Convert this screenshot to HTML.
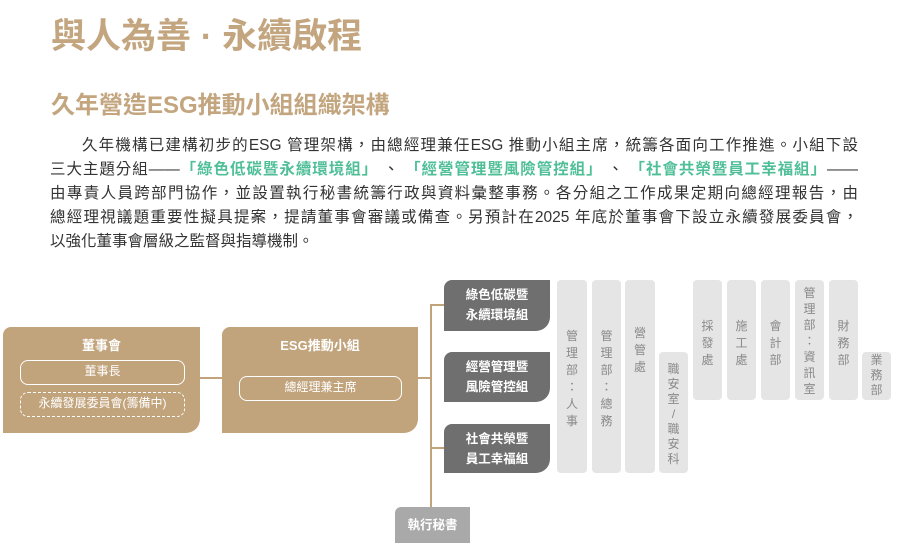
<!DOCTYPE html>
<html><head><meta charset="utf-8">
<style>
body{margin:0;width:900px;height:555px;background:#fff;position:relative;overflow:hidden;font-family:"Liberation Sans","Noto Sans CJK TC",sans-serif;}
.a{position:absolute;}
.t1{left:51px;top:8px;font-size:35px;font-weight:bold;color:#c3a67f;letter-spacing:0px;white-space:nowrap;}
.t2{left:51px;top:85px;font-size:24px;font-weight:bold;color:#c3a67f;white-space:nowrap;}
.p{left:50px;width:808px;font-size:15.5px;color:#333;text-align:justify;text-align-last:justify;white-space:nowrap;line-height:24px;}
.g{color:#4fbf98;font-weight:bold;}
.gold{background:#c1a37c;color:#fff;font-weight:bold;}
.pill{position:absolute;border:1.5px solid #fff;border-radius:8px;color:#fff;font-size:12px;font-weight:normal;text-align:center;line-height:21px;box-sizing:border-box;}
.dk{background:#6f6f6f;color:#fff;font-size:12.5px;font-weight:bold;text-align:center;line-height:20px;border-radius:8px 0 14px 0;box-sizing:border-box;padding-top:5px;}
.col{background:#e5e5e5;border-radius:4px;color:#8a8a8a;font-size:12px;text-align:center;line-height:17px;box-sizing:border-box;}
.ln{position:absolute;background:#c1a37c;}
</style></head><body>
<div class="a t1">與人為善 · 永續啟程</div>
<div class="a t2">久年營造ESG推動小組組織架構</div>
<div class="a p" style="top:134px;"><span style="padding-left:32px"></span>久年機構已建構初步的ESG 管理架構，由總經理兼任ESG 推動小組主席，統籌各面向工作推進。小組下設</div>
<div class="a p" style="top:158px;">三大主題分組——<span class="g">「綠色低碳暨永續環境組」</span> 、 <span class="g">「經營管理暨風險管控組」</span> 、 <span class="g">「社會共榮暨員工幸福組」</span>——</div>
<div class="a p" style="top:182px;">由專責人員跨部門協作，並設置執行秘書統籌行政與資料彙整事務。各分組之工作成果定期向總經理報告，由</div>
<div class="a p" style="top:206px;">總經理視議題重要性擬具提案，提請董事會審議或備查。另預計在2025 年底於董事會下設立永續發展委員會，</div>
<div class="a" style="left:50px;top:230px;font-size:15.5px;color:#333;line-height:24px;">以強化董事會層級之監督與指導機制。</div>

<!-- connectors -->
<div class="ln" style="left:200px;top:377px;width:22px;height:2px;"></div>
<div class="ln" style="left:418px;top:377px;width:14px;height:2px;"></div>
<div class="ln" style="left:430px;top:304px;width:2px;height:205px;"></div>
<div class="ln" style="left:430px;top:304px;width:14px;height:2px;"></div>
<div class="ln" style="left:430px;top:447px;width:14px;height:2px;"></div>

<!-- board -->
<div class="a gold" style="left:3px;top:327px;width:197px;height:106px;border-radius:8px 0 14px 0;">
 <div class="a" style="left:0;width:197px;top:8px;text-align:center;font-size:13px;">董事會</div>
 <div class="pill" style="left:17px;top:33px;width:165px;height:25px;">董事長</div>
 <div class="pill" style="left:17px;top:65px;width:165px;height:25px;border-style:dashed;">永續發展委員會(籌備中)</div>
</div>
<!-- ESG -->
<div class="a gold" style="left:222px;top:327px;width:196px;height:106px;border-radius:8px 0 14px 0;">
 <div class="a" style="left:0;width:196px;top:8px;text-align:center;font-size:13px;">ESG推動小組</div>
 <div class="pill" style="left:17px;top:49px;width:163px;height:25px;">總經理兼主席</div>
</div>

<!-- groups -->
<div class="a dk" style="left:444px;top:280px;width:106px;height:51px;">綠色低碳暨<br>永續環境組</div>
<div class="a dk" style="left:444px;top:352px;width:106px;height:50px;">經營管理暨<br>風險管控組</div>
<div class="a dk" style="left:444px;top:424px;width:106px;height:49px;">社會共榮暨<br>員工幸福組</div>
<div class="a" style="left:395px;top:507px;width:75px;height:36px;background:#a9a9a9;border-radius:6px 0 0 0;color:#fff;font-size:12.5px;font-weight:bold;text-align:center;line-height:36px;">執行秘書</div>

<!-- columns -->
<div class="a col" style="left:557px;top:280px;width:30px;height:193px;padding-top:48px;">管<br>理<br>部<br>：<br>人<br>事</div>
<div class="a col" style="left:592px;top:280px;width:29px;height:193px;padding-top:48px;">管<br>理<br>部<br>：<br>總<br>務</div>
<div class="a col" style="left:625px;top:280px;width:30px;height:193px;padding-top:45px;">營<br>管<br>處</div>
<div class="a col" style="left:659px;top:352px;width:29px;height:121px;padding-top:10px;line-height:15px;">職<br>安<br>室<br>/<br>職<br>安<br>科</div>
<div class="a col" style="left:693px;top:280px;width:29px;height:120px;padding-top:38px;">採<br>發<br>處</div>
<div class="a col" style="left:727px;top:280px;width:29px;height:120px;padding-top:38px;">施<br>工<br>處</div>
<div class="a col" style="left:761px;top:280px;width:29px;height:120px;padding-top:38px;">會<br>計<br>部</div>
<div class="a col" style="left:795px;top:280px;width:29px;height:120px;padding-top:5px;line-height:16px;">管<br>理<br>部<br>：<br>資<br>訊<br>室</div>
<div class="a col" style="left:829px;top:280px;width:29px;height:120px;padding-top:38px;">財<br>務<br>部</div>
<div class="a col" style="left:862px;top:352px;width:29px;height:48px;padding-top:1px;line-height:15px;">業<br>務<br>部</div>
</body></html>
